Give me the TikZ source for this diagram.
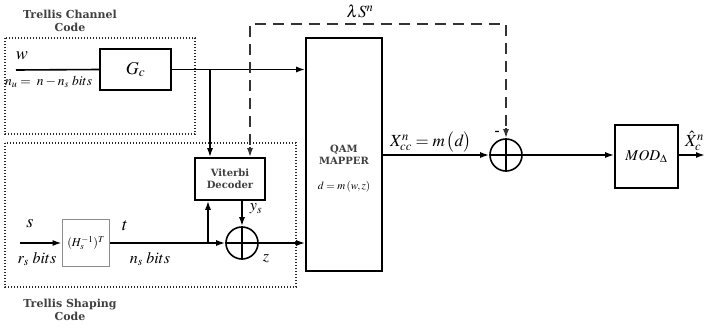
\documentclass[tikz,border=0pt]{standalone}
\usepackage{mathptmx}
\usepackage{fontspec}
\setmainfont{Liberation Serif}
\newfontfamily\labfont{DejaVu Serif}
\usetikzlibrary{arrows.meta,calc}
\begin{document}
\begin{tikzpicture}[x=1pt,y=-1pt,
  blk/.style={draw,line width=1.6pt,inner sep=0pt},
  grp/.style={draw,line width=1.3pt,dash pattern=on 1.3pt off 1.7pt,draw=black!85},
  sig/.style={line width=1.6pt},
  arr/.style={sig,-{Latex[length=9pt,width=6pt]}},
  dsh/.style={line width=1.6pt,dash pattern=on 11pt off 7pt,draw=black!80},
  ttl/.style={font=\labfont\bfseries\fontsize{11}{13}\selectfont,align=center,text=black!75},
  lab/.style={font=\fontsize{13}{15}\selectfont,inner sep=0pt}
]
\useasboundingbox (0,0) rectangle (705,327);
% group boxes
\draw[grp] (5,38) rectangle (195,134);
\draw[grp] (5,143) rectangle (296,287);
\node[ttl] (tcc) at (70,21) {Trellis Channel\\Code};
\node[ttl] (tsc) at (70,310) {Trellis Shaping\\Code};
% blocks
\node[blk,minimum width=71pt,minimum height=41pt] (gc) at (135.5,69.5) {\fontsize{18}{20}\selectfont$G_c$};
\node[blk,minimum width=76pt,minimum height=233pt] (qam) at (344,154.5) {};
\node[ttl,font=\labfont\bfseries\fontsize{10}{12}\selectfont] (qamt) at (344,155) {QAM\\MAPPER};
\node[lab,font=\fontsize{11}{13}\selectfont] (qamd) at (344,187) {$d=m\left(w,z\right)$};
\node[blk,minimum width=70pt,minimum height=42pt,align=center,font=\labfont\bfseries\fontsize{10}{12.5}\selectfont,text=black!75] (vit) at (230,179) {Viterbi\\Decoder};
\node[draw=black!45,line width=1.8pt,minimum width=47pt,minimum height=47pt,inner sep=0pt,font=\fontsize{12}{14}\selectfont] (hs) at (86,243) {$(H_s^{-1})^T$};
\node[blk,minimum width=63pt,minimum height=63pt,font=\fontsize{15}{17}\selectfont] (mod) at (646.5,156.5) {$MOD_\Delta$};
% adders
\node[draw,circle,line width=1.6pt,minimum size=32pt,inner sep=0pt] (ad1) at (242,243) {};
\draw[sig] (ad1.north) -- (ad1.south) (ad1.west) -- (ad1.east);
\node[draw,circle,line width=1.6pt,minimum size=32pt,inner sep=0pt] (ad2) at (506,155) {};
\draw[sig] (ad2.north) -- (ad2.south) (ad2.west) -- (ad2.east);
% coordinates
\coordinate (win) at (16,70);
\coordinate (sin) at (20,243);
\coordinate (b1) at (210,70);
\coordinate (b2) at (208,243);
\coordinate (xout) at (705,155);
\coordinate (d1) at (250,24);
\coordinate (d2) at (506,24);
% signals
\draw[sig] (win) -- (gc.west);
\draw[arr] (gc.east) -- (qam.west |- gc.east);
\draw[arr] (b1) -- (b1 |- vit.north);
\draw[arr] (sin) -- (hs.west);
\draw[arr] (hs.east) -- (ad1.west);
\draw[arr] (b2) -- (b2 |- vit.south);
\draw[arr] (vit.south -| ad1.north) -- (ad1.north);
\draw[arr] (ad1.east) -- (qam.west |- ad1.east);
\draw[arr] (qam.east |- ad2.west) -- (ad2.west);
\draw[arr] (ad2.east) -- (mod.west |- ad2.east);
\draw[arr] (mod.east |- xout) -- (xout);
% dashed feedback
\draw[dsh] ($(vit.north -| d1)+(0,-12)$) -- (d1) -- (d2) -- ($(ad2.north)+(0,-10)$);
\draw[sig,draw=black!80,-{Latex[length=9pt,width=6pt]}] ($(ad2.north)+(0,-10)$) -- (ad2.north);
\draw[sig,draw=black!80,-{Latex[length=9pt,width=6pt]}] ($(vit.north -| d1)+(0,-10)$) -- (vit.north -| d1);
% labels
\node[lab,font=\fontsize{18}{20}\selectfont] (lw) at (22,56) {$w$};
\node[lab,font=\fontsize{13.5}{15}\selectfont,anchor=west] (lnu) at (5,82) {$n_u=\;n-n_s\;bits$};
\node[lab,font=\fontsize{18}{20}\selectfont] (ls) at (30,224) {$s$};
\node[lab,font=\fontsize{16}{18}\selectfont] (lrs) at (37,259) {$r_s\;bits$};
\node[lab,font=\fontsize{18}{20}\selectfont] (lt) at (125,226) {$t$};
\node[lab,font=\fontsize{16}{18}\selectfont] (lns) at (150,259) {$n_s\;bits$};
\node[lab,font=\fontsize{16}{18}\selectfont] (lys) at (256,209) {$y_s$};
\node[lab,font=\fontsize{16}{18}\selectfont] (lz) at (266,259) {$z$};
\node[lab,font=\fontsize{17}{19}\selectfont] (lx) at (431,142) {$X_{cc}^n=m\,\big(d\big)$};
\node[lab,font=\fontsize{15}{17}\selectfont] (lm) at (497,133) {\textbf{-}};
\node[lab,font=\fontsize{17}{19}\selectfont] (llam) at (360,11) {$\lambda S^n$};
\node[lab,font=\fontsize{17}{19}\selectfont,anchor=west] (lxh) at (685,141) {$\hat{X}_c^n$};
\end{tikzpicture}
\end{document}
